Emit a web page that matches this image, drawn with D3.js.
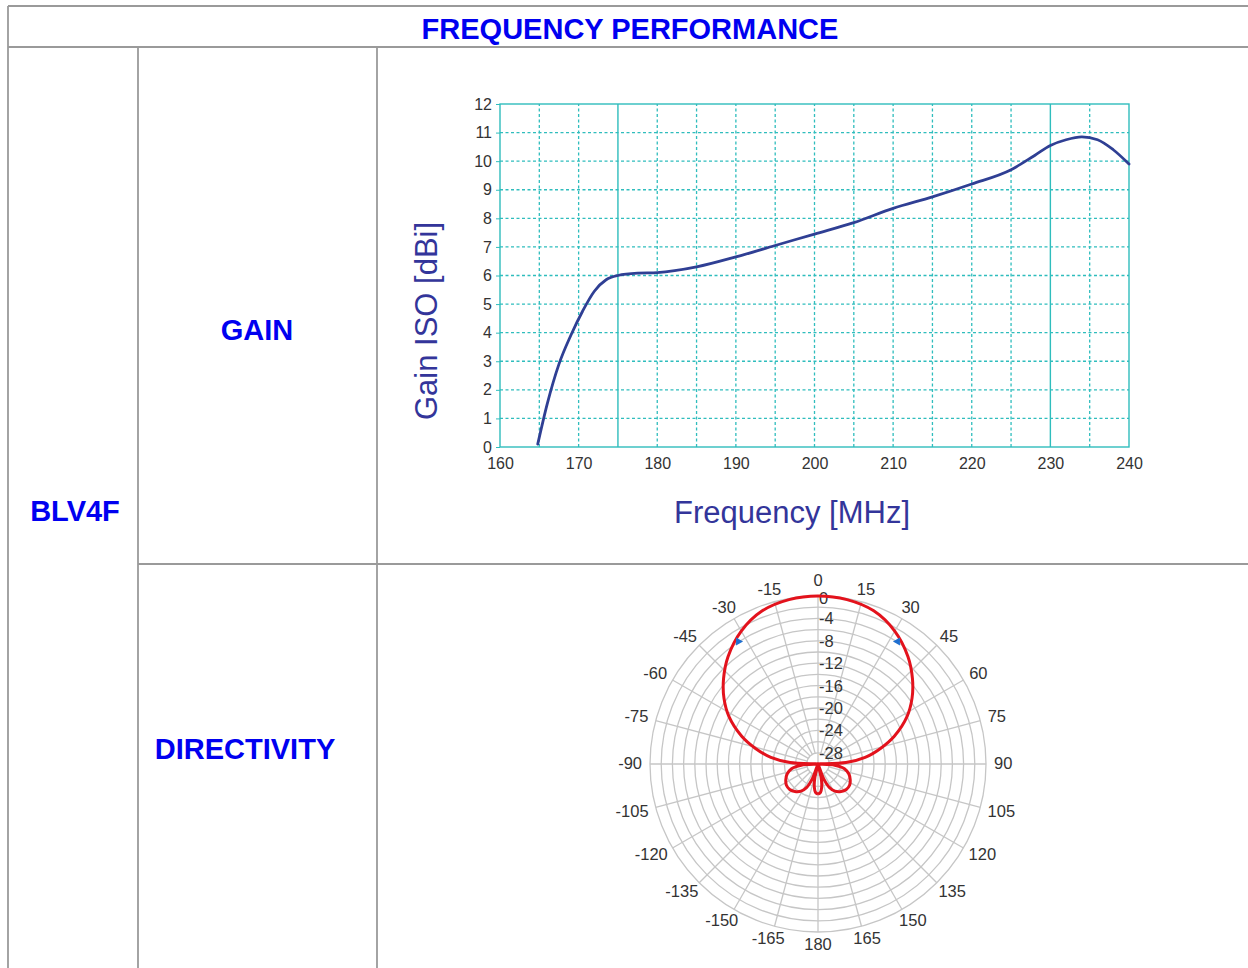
<!DOCTYPE html>
<html>
<head>
<meta charset="utf-8">
<script src="https://cdn.jsdelivr.net/npm/d3@7"></script>
<style>
  html, body { margin: 0; padding: 0; background: #fff; }
  svg { display: block; font-family: "Liberation Sans", Arial, sans-serif; }
</style>
</head>
<body>
<svg id="chart" width="1248" height="968"></svg>
<script>
// ---------- DATA ----------
const freqMHz = [164.8, 166, 167.5, 169, 170.5, 172, 173.5, 175, 177.5, 180, 185, 190, 195, 200, 205, 210, 215, 220, 225, 228, 230, 232, 234, 236, 238, 240];
const gainDbi = [0.1, 1.5, 2.9, 3.9, 4.75, 5.45, 5.85, 6.0, 6.08, 6.1, 6.3, 6.65, 7.05, 7.45, 7.85, 8.35, 8.75, 9.2, 9.7, 10.2, 10.55, 10.75, 10.85, 10.75, 10.4, 9.9];
const freqTicks = [160, 170, 180, 190, 200, 210, 220, 230, 240];
const gainTicks = [0, 1, 2, 3, 4, 5, 6, 7, 8, 9, 10, 11, 12];
const freqGridSolid = [175, 230];

// directivity pattern (right half, degrees from boresight -> dB), mirrored for left half
const patternAngles = [0, 10, 20, 30, 40, 48, 55, 62, 70, 76, 82, 87, 90, 94, 100, 108, 116, 124, 132, 140, 148, 154, 159, 163, 167, 171, 175, 180];
const patternDb     = [0, -0.2, -0.9, -2.6, -5.0, -7.3, -9.5, -12, -15.5, -18.5, -21.5, -25, -30, -27, -25.2, -24.2, -23.6, -23.2, -23.2, -23.6, -24.3, -25.3, -27.2, -30, -27.5, -25.8, -24.9, -24.6];
const markerAngles = [-33, 33];
const markerDb = [-3.9, -3.9];
const polarAngleTicks = [0, 15, 30, 45, 60, 75, 90, 105, 120, 135, 150, 165, 180, -165, -150, -135, -120, -105, -90, -75, -60, -45, -30, -15];
const polarAngleLabels = ["0", "15", "30", "45", "60", "75", "90", "105", "120", "135", "150", "165", "180", "-165", "-150", "-135", "-120", "-105", "-90", "-75", "-60", "-45", "-30", "-15"];
const polarRings = [-28, -26, -24, -22, -20, -18, -16, -14, -12, -10, -8, -6, -4, -2, 0];
const polarRingLabels = [0, -4, -8, -12, -16, -20, -24, -28];

// table texts
const headerTitle = "FREQUENCY PERFORMANCE";
const rowLabel = "BLV4F";
const subLabels = ["GAIN", "DIRECTIVITY"];

// ---------- DRAW ----------
const svg = d3.select("#chart");
const border = "#9a9a9a";
const blue = "#0000f0";

// table
const tbl = svg.append("g");
tbl.append("line").attr("x1", 8).attr("x2", 1248).attr("y1", 6).attr("y2", 6);
tbl.append("line").attr("x1", 8).attr("x2", 1248).attr("y1", 47).attr("y2", 47);
tbl.append("line").attr("x1", 8).attr("x2", 8).attr("y1", 6).attr("y2", 968);
tbl.append("line").attr("x1", 138).attr("x2", 138).attr("y1", 47).attr("y2", 968);
tbl.append("line").attr("x1", 377).attr("x2", 377).attr("y1", 47).attr("y2", 968);
tbl.append("line").attr("x1", 138).attr("x2", 1248).attr("y1", 564).attr("y2", 564);
tbl.selectAll("line").attr("stroke", border).attr("stroke-width", 1.8);

const tstyle = s => s.attr("fill", blue).attr("font-weight", "bold").attr("font-size", 29)
  .attr("text-anchor", "middle").attr("dominant-baseline", "central");
tstyle(tbl.append("text").attr("x", 630).attr("y", 29).text(headerTitle));
tstyle(tbl.append("text").attr("x", 75).attr("y", 511).text(rowLabel));
tstyle(tbl.append("text").attr("x", 257).attr("y", 330).text(subLabels[0]));
tstyle(tbl.append("text").attr("x", 245).attr("y", 749).text(subLabels[1]));

// ---------- GAIN CHART ----------
const teal = "#2fbdbd";
const x = d3.scaleLinear().domain([160, 240]).range([500, 1129]);
const y = d3.scaleLinear().domain([0, 12]).range([447, 104]);
const g = svg.append("g");

const minorX = d3.range(165, 240, 5).filter(v => !freqGridSolid.includes(v));
g.selectAll(".vgrid").data(minorX).enter().append("line")
  .attr("x1", d => x(d)).attr("x2", d => x(d)).attr("y1", y(0)).attr("y2", y(12))
  .attr("stroke", teal).attr("stroke-width", 1.3).attr("stroke-dasharray", "3,2.5");
g.selectAll(".hgrid").data(gainTicks.slice(1, -1)).enter().append("line")
  .attr("x1", x(160)).attr("x2", x(240)).attr("y1", d => y(d)).attr("y2", d => y(d))
  .attr("stroke", teal).attr("stroke-width", 1.3).attr("stroke-dasharray", "3,2.5");
g.selectAll(".vsolid").data(freqGridSolid).enter().append("line")
  .attr("x1", d => x(d)).attr("x2", d => x(d)).attr("y1", y(0)).attr("y2", y(12))
  .attr("stroke", teal).attr("stroke-width", 1.4);
g.append("rect").attr("x", x(160)).attr("y", y(12)).attr("width", x(240) - x(160)).attr("height", y(0) - y(12))
  .attr("fill", "none").attr("stroke", teal).attr("stroke-width", 1.4);

const yAxis = d3.axisLeft(y).tickValues(gainTicks).tickSize(4).tickPadding(4).tickFormat(d3.format("d"));
const yg = g.append("g").attr("transform", `translate(${x(160)},0)`).call(yAxis);
const xAxis = d3.axisBottom(x).tickValues(freqTicks).tickSize(0).tickPadding(11).tickFormat(d3.format("d"));
const xg = g.append("g").attr("transform", `translate(0,${y(0)})`).call(xAxis);
[yg, xg].forEach(a => {
  a.select(".domain").remove();
  a.selectAll(".tick line").attr("stroke", teal);
  a.selectAll(".tick text").attr("fill", "#333").attr("font-size", 16).attr("font-family", "Liberation Sans, Arial, sans-serif");
});

const gainLine = d3.line().x((d, i) => x(freqMHz[i])).y(d => y(d)).curve(d3.curveMonotoneX);
g.append("path").attr("d", gainLine(gainDbi)).attr("fill", "none")
  .attr("stroke", "#2f3f94").attr("stroke-width", 2.8).attr("stroke-linecap", "round");

const titleColor = "#33359a";
g.append("text").attr("transform", "translate(426,321) rotate(-90)")
  .attr("text-anchor", "middle").attr("dominant-baseline", "central")
  .attr("font-size", 31).attr("fill", titleColor).text("Gain ISO [dBi]");
g.append("text").attr("x", 792).attr("y", 512)
  .attr("text-anchor", "middle").attr("dominant-baseline", "central")
  .attr("font-size", 31).attr("fill", titleColor).text("Frequency [MHz]");

// ---------- POLAR CHART ----------
const cx = 818, cy = 764, R = 168;
const r = d3.scaleLinear().domain([-30, 0]).range([0, R]);
const p = svg.append("g").attr("transform", `translate(${cx},${cy})`);
const grid = "#c6c6c6";
p.selectAll(".ring").data(polarRings).enter().append("circle")
  .attr("r", d => r(d)).attr("fill", "none").attr("stroke", grid).attr("stroke-width", 1.3);
const rad = a => a * Math.PI / 180;
p.selectAll(".spoke").data(polarAngleTicks).enter().append("line")
  .attr("x1", d => (d % 90 === 0 ? 0 : r(-28)) * Math.sin(rad(d)))
  .attr("y1", d => -(d % 90 === 0 ? 0 : r(-28)) * Math.cos(rad(d)))
  .attr("x2", d => R * Math.sin(rad(d))).attr("y2", d => -R * Math.cos(rad(d)))
  .attr("stroke", grid).attr("stroke-width", 1.3);

// angle labels
p.selectAll(".alab").data(polarAngleTicks).enter().append("text")
  .attr("font-size", 16.5).attr("fill", "#333").attr("text-anchor", "middle").attr("dominant-baseline", "central")
  .text((d, i) => polarAngleLabels[i])
  .each(function (d) {
    const w = this.getComputedTextLength();
    const s = Math.sin(rad(d)), c = Math.cos(rad(d));
    const rr = 180;
    const extraY = d === 0 ? -4 : (c > 0 ? -1 : 0);
    d3.select(this).attr("x", rr * s + (w / 2 - 4) * s).attr("y", -rr * c + extraY);
  });

// ring labels
p.selectAll(".rlab").data(polarRingLabels).enter().append("text")
  .attr("x", 1).attr("y", d => -r(d) + (d === 0 ? 2 : 0)).attr("dominant-baseline", "central")
  .attr("font-size", 16.5).attr("fill", "#333").text(d => d);

// pattern
const fullAng = [], fullDb = [];
for (let i = patternAngles.length - 1; i >= 1; i--) { fullAng.push(-patternAngles[i]); fullDb.push(patternDb[i]); }
for (let i = 0; i < patternAngles.length; i++) { fullAng.push(patternAngles[i]); fullDb.push(patternDb[i]); }
const radial = d3.lineRadial().angle((d, i) => rad(fullAng[i])).radius(d => r(d)).curve(d3.curveCatmullRom.alpha(0.5));
p.append("path").attr("d", radial(fullDb)).attr("fill", "none")
  .attr("stroke", "#e3121c").attr("stroke-width", 3);

// markers
p.selectAll(".mk").data(markerDb).enter().append("path")
  .attr("d", d3.symbol().type(d3.symbolTriangle).size(28))
  .attr("fill", "#1f6fd0")
  .attr("transform", (d, i) => {
    const a = rad(markerAngles[i]);
    const px = r(d) * Math.sin(a), py = -r(d) * Math.cos(a);
    return `translate(${px},${py}) rotate(${markerAngles[i] < 0 ? 90 : -90})`;
  });
</script>
</body>
</html>
